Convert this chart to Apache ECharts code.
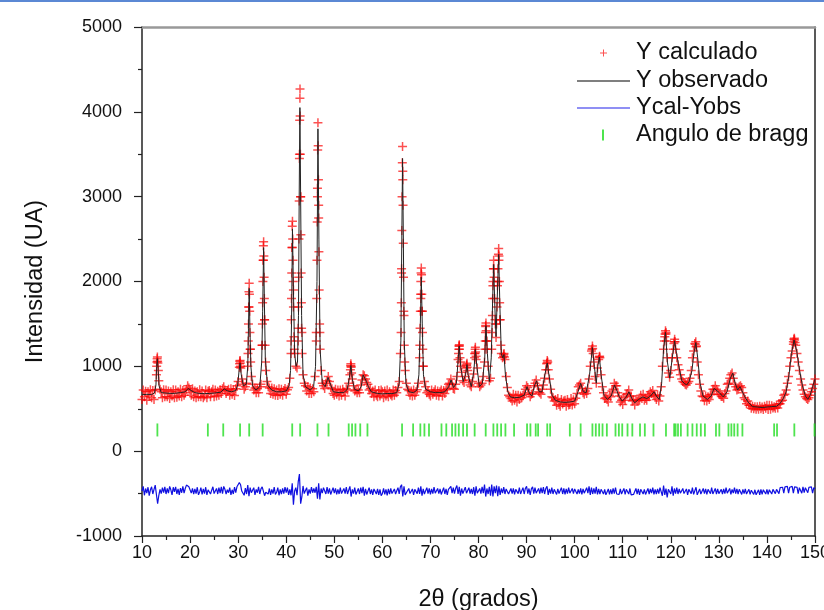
<!DOCTYPE html>
<html>
<head>
<meta charset="utf-8">
<script src="https://cdn.jsdelivr.net/npm/echarts@6/dist/echarts.min.js"></script>
<style>
html, body { margin: 0; padding: 0; background: #fff; overflow: hidden; }
#main { width: 824px; height: 610px; }
</style>
</head>
<body>
<div id="main"></div>
<script>
// calculated pattern sampled every 0.25 deg from 10 to 150
var xStart = 10, xStep = 0.25;
var calcY = [
  610,720,640,705, 600,700,650,725, 630,715,610,720, 900,1060,830,730,
  700,630,725,640, 720,640,710,620, 700,650,725,630, 720,635,700,650,
  730,640,715,660, 690,730,770,745, 720,660,735,640, 710,630,700,640,
  725,640,710,630, 650,720,630,705, 715,640,700,730, 640,720,650,705,
  660,725,680,735, 760,720,680,710, 730,660,735,670, 720,655,735,770,
  820,990,1000,850, 790,730,760,800, 1000,1700,1200,880, 790,720,745,690,
  735,690,760,790, 1250,2250,1550,950, 820,760,745,680, 745,670,735,660,
  720,655,735,670, 730,660,715,740, 670,725,750,860, 1150,2400,1900,1150,
  1000,980,1300,3500, 3000,1400,900,800, 770,710,760,680, 745,680,735,700,
  880,1300,3000,2900, 1400,950,800,770, 740,800,830,880, 820,750,735,680,
  660,730,670,720, 650,720,660,730, 700,650,735,720, 800,900,1000,850,
  770,710,720,690, 720,690,780,840, 900,890,850,810, 790,720,740,680,
  710,640,720,660, 640,715,650,720, 700,630,710,650, 720,640,700,665,
  650,720,660,715, 690,750,820,1150, 2100,3200,1600,950, 800,730,715,660,
  710,650,720,660, 700,725,800,1100, 1800,1650,1000,820, 760,690,710,670,
  650,720,670,700, 725,660,710,650, 700,720,650,715, 680,725,740,790,
  800,850,790,740, 730,790,880,1080, 1240,1050,930,830, 810,880,1010,950,
  840,780,760,820, 910,1150,1120,980, 800,760,780,800, 880,1050,1470,1300,
  1000,830,860,1200, 2000,2050,1500,1500, 2000,2250,1550,1150, 1100,1140,1080,880,
  750,660,640,620, 590,670,600,660, 580,660,610,650, 630,660,670,730,
  770,750,690,640, 670,680,770,800, 840,770,700,690, 670,730,780,860,
  960,1040,960,850, 730,640,630,590, 610,540,620,550, 530,610,555,590,
  600,530,610,545, 550,620,545,605, 560,625,680,760, 780,800,740,690,
  670,710,680,740, 850,1000,1180,1210, 1050,880,800,980, 1080,1100,900,760,
  690,620,630,610, 580,660,640,710, 730,800,770,770, 690,650,580,600,
  550,630,600,670, 680,720,650,650, 590,600,545,610, 590,600,600,660,
  620,670,600,620, 600,660,640,700, 680,715,660,650, 610,665,590,650,
  760,1000,1200,1350, 1380,1100,920,870, 950,1100,1200,1290, 1200,1100,1020,960,
  900,850,820,810, 790,780,800,820, 860,950,1100,1180, 1270,1230,1050,900,
  790,710,650,640, 595,650,590,640, 610,665,670,730, 730,770,730,710,
  670,665,645,645, 625,680,710,790, 800,860,900,920, 860,790,760,720,
  730,760,770,750, 690,630,610,560, 590,540,540,505, 530,500,525,495,
  525,495,530,500, 520,490,530,505, 540,490,540,495, 535,510,525,505,
  545,510,560,560, 590,600,660,670, 720,800,880,1000, 1100,1180,1260,1310,
  1250,1150,1050,950, 850,780,720,670, 640,620,610,630, 660,700,740,790,
  850
];

// extra calculated points on the flanks of the sharp peaks
var calcPeakPts = [
  [13.05,1000],[13.1,1050],[13.15,1090],[13.2,1110],[13.3,1040],[13.4,950],
  [30.3,1030],[30.35,1060],[30.4,1070],[30.45,1040],[30.55,980],
  [32.05,1150],[32.1,1300],[32.15,1500],[32.2,1700],[32.25,1880],[32.3,1980],[32.35,1850],[32.4,1650],[32.45,1400],[32.55,1200],[32.6,1050],
  [35.0,1250],[35.05,1500],[35.1,1750],[35.15,2000],[35.2,2250],[35.25,2420],[35.3,2470],[35.35,2300],[35.4,2050],[35.45,1800],[35.5,1550],[35.6,1250],[35.7,1050],
  [41.0,1300],[41.05,1550],[41.1,1800],[41.15,2100],[41.2,2400],[41.25,2650],[41.3,2710],[41.35,2500],[41.4,2250],[41.45,2000],[41.5,1700],[41.6,1350],[41.7,1200],
  [42.5,1450],[42.55,1700],[42.6,2050],[42.65,2500],[42.7,2950],[42.75,3450],[42.8,3900],[42.85,4160],[42.87,4270],[42.9,3950],[42.95,3500],[43.0,3000],[43.05,2550],[43.1,2100],[43.15,1750],[43.2,1450],[43.3,1150],
  [46.25,1400],[46.35,1800],[46.4,2250],[46.45,2700],[46.5,3100],[46.55,3550],[46.6,3870],[46.65,3600],[46.7,3200],[46.75,2750],[46.8,2350],[46.85,1900],[46.95,1500],[47.05,1200],
  [53.35,960],[53.4,1010],[53.45,1030],[53.5,990],[53.6,920],
  [63.9,1400],[63.95,1750],[64.0,2150],[64.05,2600],[64.1,3000],[64.15,3400],[64.2,3590],[64.25,3300],[64.3,2900],[64.35,2450],[64.4,2050],[64.45,1650],[64.55,1250],[64.65,1050],
  [67.8,1250],[67.85,1450],[67.9,1650],[67.95,1850],[68.0,2000],[68.05,2100],[68.1,2160],[68.15,2080],[68.2,1850],[68.3,1650],[68.35,1400],[68.4,1200],[68.5,1000],
  [75.85,1150],[75.9,1200],[75.95,1240],[76.0,1255],[76.05,1200],[76.15,1100],[76.25,1000],
  [77.5,980],[77.55,1020],[77.6,1035],[77.65,990],
  [79.2,1100],[79.25,1150],[79.3,1200],[79.35,1225],[79.4,1170],[79.5,1080],
  [81.35,1200],[81.4,1300],[81.45,1400],[81.5,1480],[81.55,1510],[81.6,1420],[81.65,1300],[81.75,1200],
  [82.85,1400],[82.9,1600],[82.95,1800],[83.0,1950],[83.1,2150],[83.15,2250],[83.2,2150],[83.35,1800],[83.45,1550],[83.65,1340],
  [83.85,1700],[83.95,1950],[84.05,2150],[84.15,2320],[84.2,2390],[84.25,2300],[84.35,2000],[84.4,1750],[84.45,1550],[84.65,1250],
  [85.2,1120],[85.3,1150],[85.4,1110],
  [94.2,1030],[94.3,1070],[94.4,1050],
  [103.6,1200],[103.7,1240],[103.85,1150],
  [105.1,1110],[105.2,1120],
  [118.65,1300],[118.8,1380],[118.9,1420],[119.0,1400],[119.1,1300],
  [120.65,1270],[120.8,1320],[120.9,1290],
  [125.1,1260],[125.2,1290],[125.35,1240],
  [145.5,1290],[145.6,1320],[145.7,1330],[145.85,1280]
];

// observed profile (thin dark line)
var obsPts = [
  [10,665],[11,670],[12,668],[12.6,685],[12.9,780],[13.05,1000],[13.2,1090],[13.35,980],[13.55,770],[14,690],
  [15,685],[16,680],[17,683],[18,690],[19,700],[19.6,740],[20.2,715],[21,690],[22,680],[23,678],[24,680],[25,685],
  [26.4,695],[27.1,735],[27.7,712],[28.6,700],[29.5,715],[29.9,780],[30.2,950],[30.4,1040],[30.65,900],[31.1,770],
  [31.7,790],[32.0,1000],[32.15,1450],[32.3,1920],[32.45,1450],[32.65,1000],[33.0,770],[33.7,720],[34.5,760],
  [34.9,1050],[35.1,1650],[35.3,2400],[35.45,1800],[35.65,1100],[36.1,780],[37,720],[38,700],[39,700],[40,710],
  [40.6,770],[40.9,950],[41.1,1500],[41.3,2620],[41.5,1900],[41.75,1150],[42.05,1000],[42.35,1050],[42.55,1600],
  [42.7,3000],[42.85,4050],[43.0,3000],[43.2,1600],[43.5,900],[44.0,760],[45.0,720],[45.7,760],[46.1,1000],
  [46.4,2000],[46.6,3800],[46.8,2500],[47.05,1200],[47.5,800],[48.1,760],[48.7,870],[49.2,790],[49.8,700],
  [51,690],[52,690],[52.7,730],[53.15,870],[53.45,1010],[53.75,850],[54.2,730],[55.0,710],[55.6,760],[56.0,900],
  [56.3,880],[56.7,820],[57.1,760],[57.7,700],[59,680],[60,675],[61,680],[62,678],[63,690],[63.5,800],[63.85,1300],
  [64.05,2500],[64.2,3450],[64.35,2600],[64.55,1300],[64.9,800],[65.5,700],[66.5,690],[67.2,720],[67.6,900],
  [67.9,1500],[68.1,2050],[68.3,1500],[68.55,900],[69,730],[70,700],[71,690],[72,690],[73,700],[73.8,760],
  [74.3,840],[74.8,750],[75.4,800],[75.8,1100],[76.0,1240],[76.3,1000],[76.8,820],[77.3,900],[77.6,1020],
  [77.9,880],[78.5,760],[79.05,950],[79.35,1200],[79.65,1000],[80.2,760],[80.8,800],[81.3,1100],[81.55,1480],
  [81.85,1150],[82.25,820],[82.65,1100],[82.95,1800],[83.15,2200],[83.4,1700],[83.65,1350],[83.95,1900],
  [84.2,2320],[84.45,1700],[84.75,1150],[85.05,1100],[85.3,1140],[85.6,900],[86.1,700],[86.6,640],[87.5,630],
  [88.5,635],[89.5,660],[90.1,760],[90.6,680],[91.1,650],[91.7,780],[92.1,830],[92.6,700],[93.2,700],[93.8,900],
  [94.3,1040],[94.7,880],[95.3,660],[96,600],[97,580],[98,575],[99,580],[100,590],[100.7,700],[101.25,800],
  [101.8,700],[102.4,690],[103.1,900],[103.7,1220],[104.1,1000],[104.5,800],[104.8,1000],[105.15,1110],
  [105.5,900],[106.1,660],[106.8,610],[107.6,650],[108.3,780],[108.7,760],[109.3,640],[109.9,590],[110.6,630],
  [111.3,700],[111.9,620],[112.5,570],[113.3,610],[114.2,640],[115,620],[115.8,650],[116.5,700],[117.1,640],
  [117.6,610],[118.1,800],[118.5,1200],[118.9,1400],[119.3,1050],[119.8,860],[120.3,1100],[120.8,1300],
  [121.2,1150],[121.7,990],[122.3,830],[122.8,800],[123.3,780],[123.8,820],[124.4,950],[124.8,1150],[125.2,1280],
  [125.6,1100],[126.1,800],[126.7,650],[127.6,610],[128.4,650],[129.0,740],[129.4,750],[130.1,690],[130.9,640],
  [131.7,700],[132.4,860],[132.9,920],[133.4,800],[133.9,720],[134.4,760],[134.8,760],[135.4,640],[136.2,570],
  [137,525],[138,520],[139,515],[140,520],[141,525],[142,530],[142.7,560],[143.4,620],[144,700],[144.6,900],
  [145.1,1150],[145.65,1310],[146.2,1180],[146.8,950],[147.4,770],[148,650],[148.5,610],[149,660],[149.5,760],[150,850]
];

// difference curve, same 0.25 deg grid
var diffY = [
  -470,-415,-520,-440, -495,-425,-525,-455, -420,-505,-450,-400, -410,-620,-520,-450,
  -500,-430,-490,-420, -505,-440,-495,-415, -455,-515,-425,-480, -420,-505,-445,-515,
  -435,-490,-415,-495, -440,-400,-385,-420, -425,-495,-440,-505, -445,-500,-425,-515,
  -480,-430,-510,-445, -500,-425,-515,-455, -435,-505,-460,-420, -500,-515,-440,-505,
  -430,-495,-420,-500, -415,-450,-505,-455, -490,-430,-515,-455, -505,-425,-490,-420,
  -430,-370,-395,-470, -480,-520,-435,-505, -400,-530,-430,-490, -500,-430,-515,-450,
  -490,-420,-505,-445, -420,-400,-525,-485, -490,-505,-440,-515, -450,-500,-425,-510,
  -485,-430,-520,-450, -505,-440,-500,-425, -490,-430,-515,-450, -520,-380,-630,-470,
  -430,-520,-360,-270, -620,-540,-410,-500, -500,-430,-525,-450, -500,-425,-490,-440,
  -490,-420,-560,-380, -570,-440,-495,-430, -450,-505,-425,-500, -440,-510,-490,-430,
  -495,-440,-510,-450, -505,-430,-500,-515, -440,-500,-425,-505, -490,-415,-535,-450,
  -500,-430,-510,-490, -440,-505,-430,-495, -420,-525,-445,-510, -490,-430,-505,-450,
  -515,-445,-435,-505, -445,-515,-450,-525, -500,-440,-510,-450, -520,-445,-505,-440,
  -500,-515,-445,-505, -490,-430,-505,-420, -395,-535,-415,-515, -490,-510,-440,-500,
  -505,-445,-515,-450, -440,-500,-430,-505, -415,-525,-445,-505, -495,-430,-500,-440,
  -510,-445,-500,-425, -495,-505,-440,-500, -445,-510,-490,-430, -505,-445,-515,-450,
  -440,-415,-495,-430, -500,-440,-405,-505, -420,-525,-440,-500, -515,-425,-495,-510,
  -430,-500,-445,-505, -425,-525,-415,-495, -510,-440,-500,-420, -495,-395,-535,-440,
  -505,-420,-525,-395, -535,-415,-495,-405, -530,-415,-515,-440, -495,-425,-505,-445,
  -430,-505,-490,-440, -500,-440,-510,-450, -440,-500,-430,-505, -495,-430,-505,-440,
  -415,-500,-440,-515, -445,-420,-500,-430, -495,-510,-440,-500, -430,-495,-425,-505,
  -440,-415,-515,-445, -500,-430,-505,-450, -440,-510,-445,-500, -495,-430,-505,-440,
  -510,-445,-500,-430, -495,-505,-440,-500, -445,-425,-505,-450, -500,-440,-510,-445,
  -495,-505,-430,-495, -415,-515,-430,-505, -440,-500,-420,-510, -445,-505,-450,-430,
  -505,-450,-515,-500, -445,-510,-450,-505, -440,-500,-430,-505, -495,-510,-445,-505,
  -500,-440,-510,-450, -445,-505,-440,-515, -495,-510,-500,-440, -505,-445,-515,-450,
  -440,-505,-450,-510, -500,-440,-505,-445, -495,-430,-510,-450, -505,-445,-500,-430,
  -420,-525,-405,-515, -440,-545,-450,-430, -505,-415,-525,-440, -500,-430,-505,-445,
  -495,-510,-440,-500, -505,-445,-515,-450, -440,-500,-430,-510, -495,-425,-515,-500,
  -445,-505,-495,-440, -500,-445,-510,-450, -440,-500,-430,-505, -495,-440,-505,-445,
  -500,-515,-450,-505, -445,-500,-430,-495, -505,-440,-510,-450, -495,-430,-500,-445,
  -505,-450,-440,-510, -450,-500,-445,-505, -500,-450,-510,-460, -450,-510,-455,-515,
  -505,-455,-515,-450, -510,-455,-450,-505, -450,-510,-455,-445, -505,-450,-440,-500,
  -450,-440,-500,-430, -445,-425,-495,-420, -440,-415,-495,-425, -430,-415,-495,-420,
  -440,-425,-500,-430, -425,-495,-420,-490, -430,-415,-490,-425, -440,-420,-495,-430,
  -445
];

// Bragg reflection positions (deg) and the level where their ticks are drawn
var braggPos = [
  13.2, 23.7, 26.9, 30.4, 32.3, 35.1, 41.25, 42.9, 46.5, 48.8, 53.0, 53.7, 54.4, 55.4, 56.9,
  64.1, 66.4, 67.9, 68.75, 69.7, 72.3, 73.3, 74.5, 75.2, 75.9, 76.8, 77.6, 79.2, 81.5, 83.1,
  83.9, 84.7, 85.6, 87.4, 90.1, 90.8, 91.9, 92.4, 94.3, 94.9, 99.0, 101.25, 103.7, 104.4, 105.1,
  105.8, 106.7, 108.5, 109.2, 109.9, 111.0, 112.0, 113.6, 114.6, 116.4, 119.0, 120.7, 121.0,
  121.5, 122.1, 123.5, 124.5, 125.4, 126.25, 127.1, 129.4, 130.1, 132.0, 132.6, 133.2, 133.9,
  134.9, 141.5, 142.1, 145.7, 149.9
];
var braggLevel = 250;

var FONT = '"Liberation Sans", Arial, sans-serif';
// plus sign with arms 1.5/9 of the symbol size
var plusPath = 'path://M3.75,0h1.5v3.75h3.75v1.5h-3.75v3.75h-1.5v-3.75h-3.75v-1.5h3.75z';
var plusThin = 'path://M3,0h1v3h3v1h-3v3h-1v-3h-3v-1h3z';

var calcData = calcY.map(function (v, i) { return [xStart + i * xStep, v]; }).concat(calcPeakPts);
var diffData = diffY.map(function (v, i) { return [xStart + i * xStep, v]; });
var braggData = braggPos.map(function (x) { return [x, braggLevel]; });

var myChart = echarts.init(document.getElementById('main'));

function legendItem(name, left, top, w, h, icon, padLeft) {
    return {
        data: [name], left: left, top: top, padding: 0,
        itemWidth: w, itemHeight: h, icon: icon,
        selectedMode: false,
        textStyle: { fontFamily: FONT, fontSize: 23.5, color: '#111', padding: [0, 0, 0, padLeft] }
    };
}

var option = {
    animation: false,
    backgroundColor: '#fff',
    graphic: [
        { type: 'rect', left: 0, top: 0, shape: { width: 824, height: 2 }, style: { fill: '#5b88d4' } }
    ],
    grid: { left: 142, right: 9, top: 27, bottom: 74, outerBoundsMode: 'none', containLabel: false },
    legend: [
        legendItem('Y calculado', 600, 41, 7, 7, plusThin, 24),
        legendItem('Y observado', 577, 69, 53, 1.5, 'rect', 1),
        legendItem('Ycal-Yobs', 577, 96, 53, 1.5, 'rect', 1),
        legendItem('Angulo de bragg', 602, 123, 2, 11, 'rect', 27)
    ],
    xAxis: [{
        type: 'value', min: 10, max: 150, interval: 10,
        name: '2θ (grados)', nameLocation: 'middle', nameGap: 52,
        nameTextStyle: { fontFamily: FONT, fontSize: 23.5, color: '#111' },
        axisLine: { onZero: false, lineStyle: { color: '#222', width: 1.5 } },
        axisTick: { length: 7, lineStyle: { color: '#222', width: 1.2 } },
        minorTick: { show: true, splitNumber: 2, length: 4, lineStyle: { color: '#222', width: 1.2 } },
        axisLabel: { fontFamily: FONT, fontSize: 18, color: '#111', margin: 8 },
        splitLine: { show: false }
    }, {
        type: 'value', min: 10, max: 150, position: 'top',
        axisLine: { onZero: false, lineStyle: { color: '#999', width: 2.5 } },
        axisTick: { show: false }, axisLabel: { show: false }, splitLine: { show: false }
    }],
    yAxis: [{
        type: 'value', min: -1000, max: 5000, interval: 1000,
        name: 'Intensidad (UA)', nameLocation: 'middle', nameGap: 94,
        nameTextStyle: { fontFamily: FONT, fontSize: 23.5, color: '#111' },
        axisLine: { show: true, onZero: false, lineStyle: { color: '#222', width: 1.5 } },
        axisTick: { show: true, length: 8, lineStyle: { color: '#222', width: 1.2 } },
        minorTick: { show: true, splitNumber: 2, length: 4, lineStyle: { color: '#222', width: 1.2 } },
        axisLabel: { fontFamily: FONT, fontSize: 18, color: '#111', margin: 20,
            formatter: function (v) { return String(v); } },
        splitLine: { show: false }
    }, {
        type: 'value', min: -1000, max: 5000, position: 'right',
        axisLine: { show: true, onZero: false, lineStyle: { color: '#222', width: 1.5 } },
        axisTick: { show: false }, axisLabel: { show: false }, splitLine: { show: false }
    }],
    series: [
        {
            name: 'Y calculado', type: 'scatter', data: calcData,
            symbol: plusPath, symbolSize: 9, large: false,
            color: 'rgba(255,0,0,0.7)',
            itemStyle: { color: 'rgba(250,0,0,0.85)' }, z: 2
        },
        {
            name: 'Y observado', type: 'line', data: obsPts,
            showSymbol: false, symbol: 'none', color: '#555',
            lineStyle: { color: '#222', width: 1 }, z: 3
        },
        {
            name: 'Ycal-Yobs', type: 'line', data: diffData,
            showSymbol: false, symbol: 'none', color: '#6a6af0',
            lineStyle: { color: '#1010e0', width: 1.2 }, z: 3
        },
        {
            name: 'Angulo de bragg', type: 'scatter', data: braggData,
            symbol: 'rect', symbolSize: [1.8, 13], color: '#22dd22',
            itemStyle: { color: '#22dd22' }, z: 2
        }
    ]
};

myChart.setOption(option);
</script>
</body>
</html>
